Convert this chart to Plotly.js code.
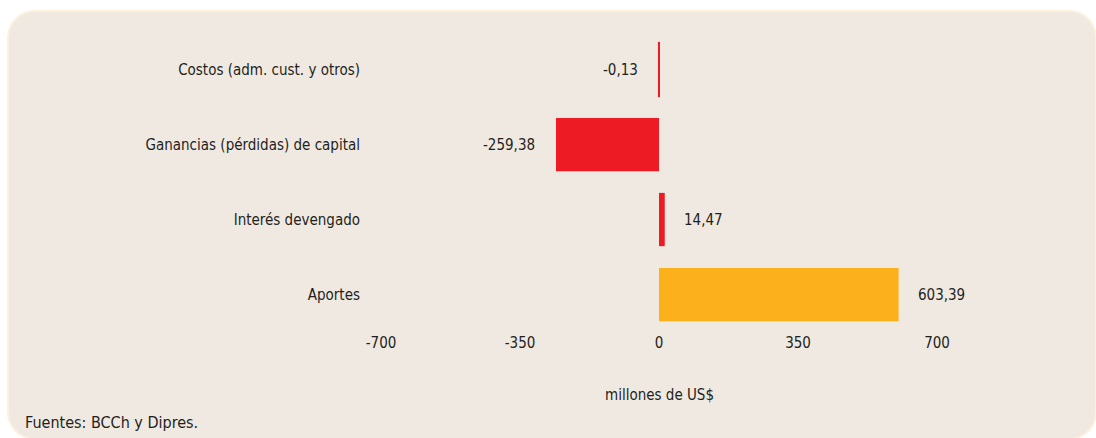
<!DOCTYPE html>
<html>
<head>
<meta charset="utf-8">
<script src="https://cdn.plot.ly/plotly-3.0.1.min.js"></script>
<style>
  html, body { margin: 0; padding: 0; background: #ffffff; }
  #wrap { position: relative; width: 1096px; height: 438px; overflow: hidden; }
  #card { position: absolute; left: 7px; top: 10px; width: 1090px; height: 430px;
          background: #f0e9e2; border: 2px solid #fcf0de; border-radius: 28px; box-sizing: border-box; }
  #chart { position: absolute; left: 0; top: 0; width: 1096px; height: 438px; }
</style>
</head>
<body>
<div id="wrap">
  <div id="card"></div>
  <div id="chart"></div>
</div>
<script>
// Data
const categories = ["Costos (adm. cust. y otros)", "Ganancias (pérdidas) de capital", "Interés devengado", "Aportes"];
const values = [-0.13, -259.38, 14.47, 603.39];
const barColors = ["#ed1c24", "#ed1c24", "#ed1c24", "#fcb01b"];
const tickVals = [-700, -350, 0, 350, 700];
const tickLabels = ["-700", "-350", "0", "350", "700"];
const axisTitle = "millones de US$";
const sourceNote = "Fuentes: BCCh y Dipres.";

const labelFont = { family: "'DejaVu Sans Condensed', sans-serif", size: 15, color: "#231f20" };

const trace = {
  type: "bar",
  orientation: "h",
  y: categories,
  x: values,
  marker: {
    color: barColors,
    line: { color: barColors, width: [2, 0, 0, 0] }
  },
  hoverinfo: "none",
  showlegend: false
};

const annotations = values.map((v, i) => ({
  x: v, y: categories[i], xref: "x", yref: "y",
  text: v.toFixed(2).replace(".", ","),
  showarrow: false,
  xanchor: v < 0 ? "right" : "left",
  xshift: v < 0 ? -19 : 17,
  font: labelFont
}));

annotations.push({
  x: 0, y: 0, xref: "x", yref: "paper",
  text: axisTitle, showarrow: false,
  yanchor: "middle", yshift: -63,
  font: labelFont
});
annotations.push({
  x: 0, y: 0, xref: "paper", yref: "paper",
  xanchor: "left", yanchor: "middle",
  text: sourceNote, showarrow: false,
  xshift: -358, yshift: -90,
  font: { family: "'DejaVu Sans Condensed', sans-serif", size: 16, color: "#231f20" }
});

const layout = {
  width: 1096, height: 438,
  margin: { l: 381, r: 159, t: 32, b: 106, pad: 0 },
  paper_bgcolor: "rgba(0,0,0,0)",
  plot_bgcolor: "rgba(0,0,0,0)",
  bargap: 0.29,
  xaxis: {
    range: [-700, 700],
    tickvals: tickVals, ticktext: tickLabels,
    showgrid: false, zeroline: false, showline: false,
    ticks: "", tickfont: labelFont, fixedrange: true
  },
  yaxis: {
    autorange: "reversed",
    showgrid: false, zeroline: false, showline: false,
    ticks: "outside", ticklen: 17, tickcolor: "rgba(0,0,0,0)",
    tickfont: labelFont, fixedrange: true
  },
  annotations: annotations,
  font: labelFont
};

Plotly.newPlot("chart", [trace], layout, { displayModeBar: false, staticPlot: true });
</script>
</body>
</html>
